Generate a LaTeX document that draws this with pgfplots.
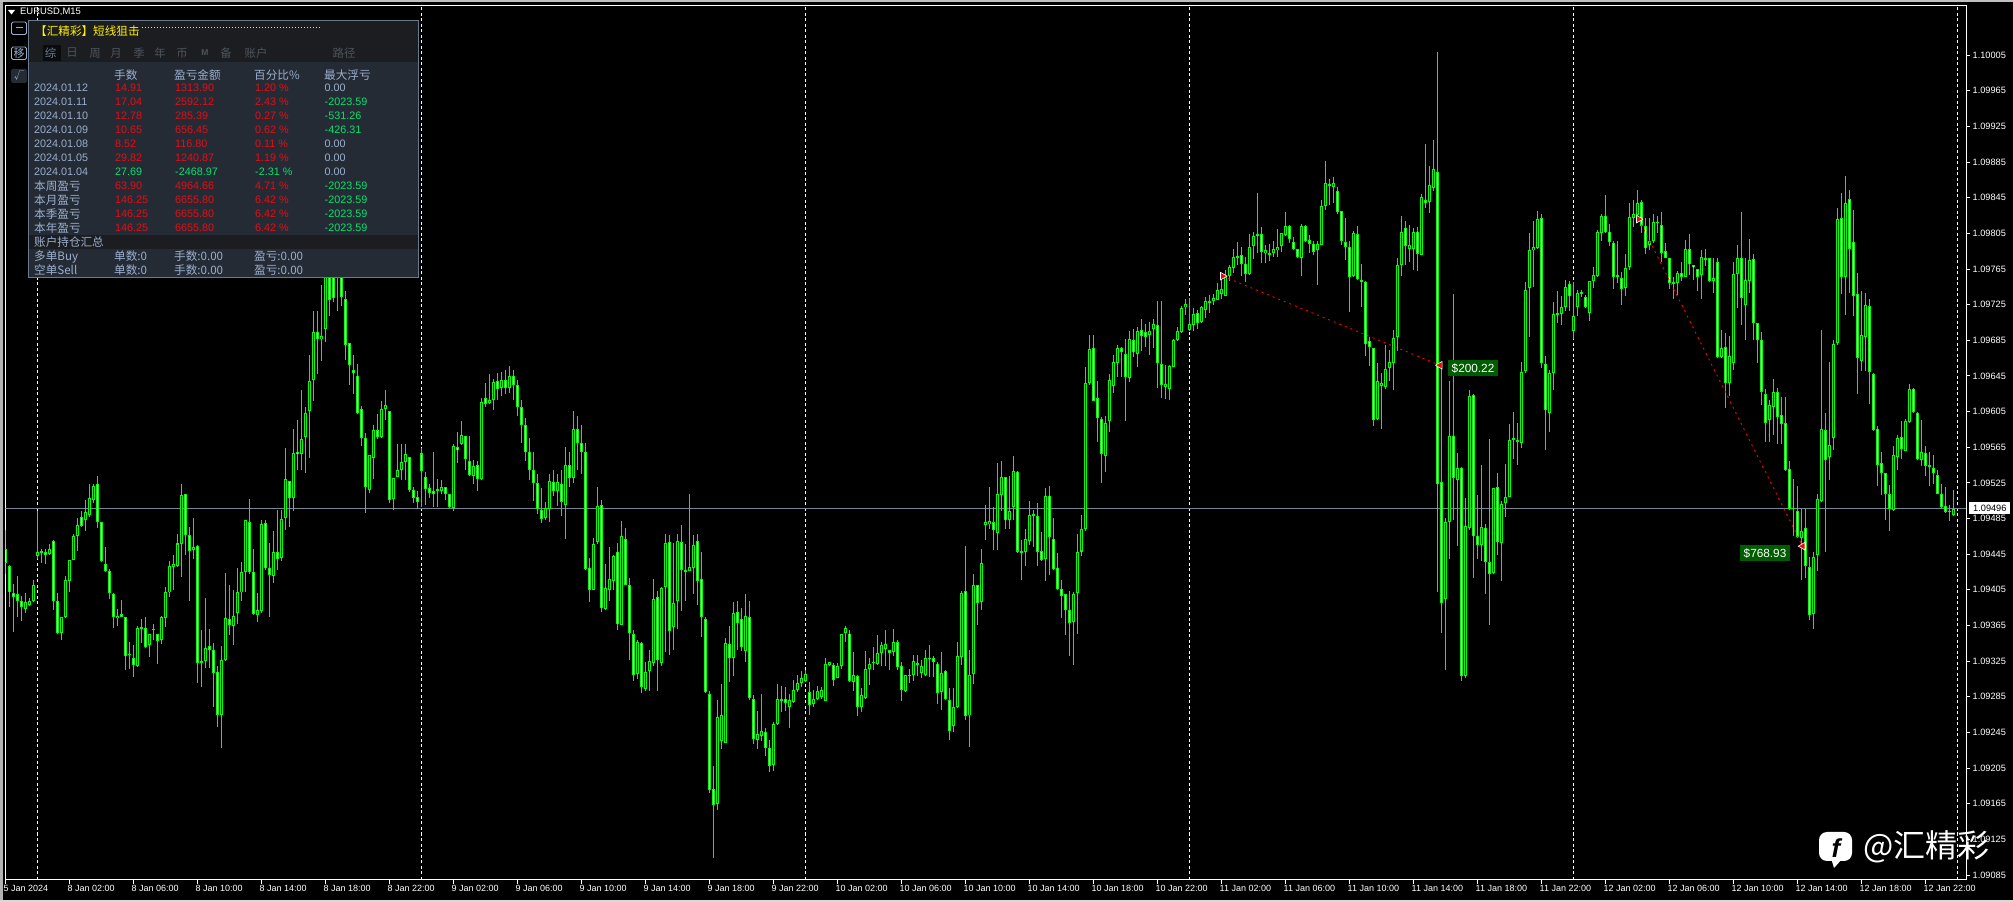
\documentclass[border=0pt]{standalone}
\usepackage{fontspec}
\usepackage{pgfplots}
\usepackage{pgfplotstable}
\pgfplotsset{compat=1.18}
\setmainfont{Liberation Sans}
\newfontfamily\cjk{Noto Sans CJK SC}
\definecolor{cdl}{RGB}{0,255,0}
\definecolor{panelbg}{RGB}{36,43,53}
\definecolor{panelhd}{RGB}{27,29,33}
\definecolor{panelbd}{RGB}{104,122,140}
\definecolor{rowtx}{RGB}{155,175,205}
\definecolor{redtx}{RGB}{228,14,22}
\definecolor{grntx}{RGB}{10,225,105}
\definecolor{tabtx}{RGB}{78,84,92}
\definecolor{lblbg}{RGB}{0,92,0}
\definecolor{pline}{RGB}{119,136,153}
% i, open, high, low, close : price in points above 1.09000
\pgfplotstableread{
i o h l c
0 451 472 423 435
1 432 433 386 403
2 402 412 358 397
3 400 420 375 393
4 392 398 370 386
5 384 401 379 391
6 388 396 387 392
7 392 416 391 410
8 443 493 440 447
9 449 451 435 447
10 448 451 434 444
11 445 457 444 451
12 460 461 382 393
13 392 401 355 356
14 357 374 349 374
15 374 421 373 416
16 415 439 402 439
17 439 468 438 465
18 465 486 449 478
19 487 493 476 477
20 483 506 471 492
21 489 524 487 508
22 506 524 502 521
23 524 533 474 481
24 481 481 436 437
25 434 453 425 426
26 426 428 395 401
27 400 401 362 374
28 373 383 364 376
29 378 394 374 375
30 374 374 315 331
31 332 346 316 333
32 329 343 307 321
33 319 364 318 362
34 361 372 345 363
35 362 374 340 341
36 343 356 330 356
37 360 367 349 361
38 356 356 322 348
39 349 376 344 374
40 373 408 363 403
41 402 437 397 432
42 431 444 405 434
43 432 468 431 457
44 456 524 419 511
45 512 513 444 466
46 467 475 393 449
47 450 486 440 453
48 454 455 301 323
49 325 360 296 324
50 325 396 317 340
51 342 361 317 337
52 338 345 273 312
53 313 320 251 265
54 264 342 227 326
55 326 424 325 373
56 372 410 354 365
57 364 405 343 376
58 379 429 367 403
59 402 436 392 425
60 425 483 402 483
61 481 507 423 425
62 425 451 377 378
63 377 401 369 382
64 381 483 379 479
65 480 483 427 430
66 429 458 374 422
67 420 471 413 447
68 447 495 427 440
69 441 495 437 485
70 486 564 472 529
71 527 527 476 508
72 508 586 494 559
73 560 596 539 557
74 557 629 539 574
75 577 610 536 603
76 606 668 553 639
77 641 718 617 694
78 694 718 647 686
79 686 747 662 690
80 698 775 683 758
81 775 785 712 730
82 760 770 728 732
83 760 778 718 775
84 770 775 723 734
85 731 740 663 680
86 682 682 635 657
87 652 668 625 648
88 645 658 602 603
89 608 611 566 575
90 575 581 491 520
91 517 556 514 556
92 553 590 529 584
93 584 602 574 576
94 576 617 575 608
95 608 629 596 612
96 606 606 502 506
97 507 531 495 531
98 532 569 532 540
99 539 569 528 549
100 548 569 528 557
101 554 554 515 517
102 517 520 502 508
103 509 516 496 503
104 558 564 498 538
105 532 537 500 518
106 519 524 508 514
107 516 560 498 513
108 516 529 498 518
109 516 528 513 520
110 520 520 506 512
111 513 513 497 498
112 497 569 494 566
113 565 582 547 562
114 569 594 568 579
115 578 578 539 552
116 550 578 533 534
117 533 551 524 544
118 545 550 516 529
119 529 620 528 616
120 620 637 610 614
121 615 647 614 618
122 618 642 607 638
123 639 648 618 630
124 632 650 622 640
125 640 652 625 632
126 632 656 626 645
127 645 652 618 635
128 635 640 600 610
129 610 618 570 590
130 590 598 550 560
131 560 575 528 540
132 540 560 505 525
133 525 535 490 496
134 495 519 480 485
135 486 503 483 497
136 496 535 481 527
137 526 540 510 516
138 516 535 499 526
139 524 540 488 503
140 500 565 462 545
141 545 560 520 530
142 530 606 525 585
143 585 600 540 570
144 570 590 535 560
145 560 570 427 428
146 429 441 391 405
147 405 463 405 456
148 459 520 456 499
149 500 506 380 385
150 383 434 382 407
151 405 453 392 417
152 415 444 405 443
153 447 458 360 367
154 366 482 366 465
155 462 474 410 410
156 410 418 326 356
157 355 360 303 309
158 311 349 305 346
159 345 346 289 296
160 294 324 291 313
161 314 337 291 325
162 323 417 320 395
163 397 404 291 326
164 323 408 320 407
165 408 468 335 458
166 459 466 332 359
167 363 458 337 390
168 392 468 361 460
169 459 478 381 427
170 427 456 392 426
171 426 513 428 431
172 429 466 400 455
173 460 468 388 415
174 417 448 352 374
175 372 374 289 290
176 288 291 177 180
177 181 207 104 164
178 165 281 158 262
179 235 299 226 265
180 233 351 233 345
181 344 364 302 328
182 328 391 308 379
183 380 392 337 368
184 372 385 336 341
185 336 400 324 376
186 374 392 281 284
187 282 287 232 238
188 237 269 226 243
189 241 288 235 247
190 246 250 218 228
191 227 236 201 207
192 208 257 202 254
193 255 299 253 282
194 281 297 268 282
195 283 296 269 278
196 274 288 250 281
197 279 304 278 293
198 293 309 290 300
199 300 314 296 306
200 303 315 302 311
201 290 302 264 276
202 277 293 274 282
203 282 297 281 291
204 285 296 283 293
205 280 329 280 322
206 321 324 319 324
207 321 323 297 304
208 306 323 306 319
209 319 355 316 355
210 356 364 346 362
211 356 360 302 303
212 302 335 292 309
213 308 309 263 273
214 274 295 268 287
215 284 336 283 316
216 316 329 298 322
217 323 341 315 324
218 322 354 321 334
219 334 346 319 343
220 339 360 319 344
221 338 338 315 334
222 335 361 331 346
223 347 349 315 318
224 320 324 280 293
225 291 309 290 309
226 309 316 300 309
227 309 332 303 325
228 323 332 308 321
229 312 326 306 320
230 309 337 308 328
231 329 343 307 327
232 328 331 307 324
233 322 324 277 289
234 290 335 270 312
235 314 315 281 282
236 281 295 236 247
237 252 295 246 273
238 273 346 272 331
239 330 404 321 401
240 404 454 259 263
241 264 338 229 309
242 310 423 299 410
243 410 410 365 390
244 391 451 382 435
245 478 500 461 481
246 479 520 473 482
247 481 498 450 472
248 469 547 450 513
249 511 549 494 532
250 532 532 473 483
251 483 533 473 493
252 498 555 483 538
253 537 538 446 448
254 449 461 416 447
255 447 473 432 462
256 460 505 455 489
257 490 495 453 488
258 488 502 432 447
259 449 470 437 439
260 440 519 415 510
261 510 521 422 464
262 462 486 427 428
263 429 446 405 406
264 406 416 373 398
265 400 400 354 382
266 382 404 331 368
267 369 402 321 400
268 401 468 356 447
269 448 489 443 473
270 473 655 471 637
271 637 691 635 675
272 676 691 617 617
273 620 639 571 598
274 597 599 525 557
275 555 600 537 592
276 595 647 582 640
277 634 668 626 661
278 660 680 644 676
279 676 678 644 672
280 670 687 595 644
281 643 696 638 686
282 685 698 666 672
283 670 700 655 695
284 697 709 673 690
285 694 703 678 689
286 691 705 669 696
287 698 709 676 703
288 702 729 632 660
289 658 729 620 635
290 633 657 619 636
291 630 657 618 656
292 655 686 655 685
293 685 700 684 696
294 694 723 693 721
295 722 731 713 726
296 696 732 695 703
297 702 721 695 715
298 716 719 698 704
299 705 723 704 722
300 719 734 710 729
301 728 736 716 729
302 729 737 725 733
303 730 749 730 741
304 737 756 731 743
305 735 764 735 756
306 757 769 751 767
307 766 788 760 779
308 778 795 769 780
309 781 790 757 771
310 771 779 750 759
311 759 804 758 790
312 791 806 776 802
313 803 850 783 804
314 804 812 772 784
315 783 792 772 786
316 781 793 774 783
317 783 797 779 787
318 786 810 779 790
319 791 805 784 805
320 803 829 802 813
321 813 814 794 799
322 795 801 786 788
323 787 787 777 778
324 777 815 757 813
325 813 814 795 796
326 798 803 783 793
327 793 797 781 784
328 786 797 747 793
329 792 843 792 836
330 836 886 831 861
331 858 866 837 860
332 857 868 839 861
333 852 857 827 829
334 830 830 792 796
335 795 822 775 790
336 790 796 717 756
337 757 808 756 805
338 804 813 753 754
339 753 771 722 751
340 750 752 667 681
341 684 689 656 677
342 676 676 589 596
343 597 659 596 639
344 634 648 586 637
345 633 680 630 653
346 654 674 639 661
347 660 697 629 688
348 689 777 673 770
349 769 825 757 807
350 811 819 769 791
351 787 814 773 792
352 787 811 764 806
353 807 812 763 782
354 781 849 781 846
355 843 905 834 839
356 840 881 828 859
357 856 910 853 877
358 874 1008 402 524
359 526 660 356 390
360 395 486 315 481
361 481 639 440 578
362 578 737 483 530
363 528 559 454 542
364 542 543 303 308
365 308 508 306 477
366 474 629 472 622
367 624 625 418 465
368 465 511 440 455
369 455 545 437 475
370 474 479 400 436
371 436 574 366 423
372 424 519 423 519
373 520 536 444 459
374 458 505 415 501
375 502 546 487 509
376 509 591 509 573
377 573 605 552 575
378 571 592 545 573
379 570 661 564 649
380 651 750 648 742
381 744 805 689 786
382 786 819 745 790
383 789 830 787 821
384 822 827 654 659
385 658 667 562 607
386 603 652 582 648
387 648 728 629 715
388 714 740 704 715
389 715 735 702 722
390 722 753 718 745
391 748 751 718 735
392 695 750 687 712
393 722 741 712 738
394 737 741 734 739
395 734 736 721 722
396 716 752 707 752
397 752 767 744 758
398 757 809 756 807
399 805 827 796 824
400 825 848 805 806
401 807 815 791 795
402 794 796 743 756
403 756 796 749 758
404 755 762 725 743
405 744 782 735 766
406 767 839 764 823
407 822 842 812 827
408 826 854 824 839
409 840 842 805 813
410 813 822 782 789
411 792 822 786 796
412 796 827 794 818
413 817 824 805 818
414 814 829 773 783
415 785 794 777 777
416 777 777 743 749
417 750 756 731 748
418 749 763 736 760
419 760 773 751 756
420 756 798 756 787
421 788 804 758 771
422 770 770 753 767
423 765 765 740 756
424 758 786 731 778
425 776 787 768 777
426 777 777 750 751
427 752 777 738 755
428 773 777 665 666
429 666 697 665 676
430 678 693 609 637
431 637 690 622 667
432 660 773 652 759
433 759 792 721 777
434 777 829 702 732
435 725 777 685 753
436 751 799 738 775
437 776 782 685 704
438 705 705 659 685
439 685 694 612 627
440 625 630 571 592
441 596 618 571 612
442 610 642 579 627
443 627 632 569 599
444 601 621 569 591
445 592 621 538 539
446 541 550 495 496
447 497 529 465 496
448 493 521 463 464
449 463 496 416 471
450 474 496 418 432
451 431 442 371 377
452 378 448 361 442
453 444 512 426 507
454 505 697 504 586
455 584 603 447 551
456 554 661 528 568
457 575 685 562 681
458 682 833 680 821
459 822 850 737 756
460 756 869 713 839
461 844 854 738 787
462 795 831 712 735
463 737 760 625 665
464 662 740 651 691
465 689 738 651 725
466 724 731 613 649
467 647 648 583 584
468 585 589 521 545
469 547 560 511 536
470 536 536 483 512
471 513 523 471 496
472 495 566 493 556
473 554 579 539 575
474 576 595 552 563
475 561 597 561 594
476 593 636 592 630
477 630 631 603 604
478 603 605 551 552
479 551 596 544 560
480 559 566 533 544
481 545 560 521 543
482 542 556 524 536
483 534 539 512 513
484 513 524 496 498
485 499 520 491 492
486 494 500 482 492
487 489 517 488 496
}\candles
\pgfplotstableread{
i p
304.3 757
358.6 657
}\tradeA
\pgfplotstableread{
i p
408.3 821
449.3 454
}\tradeB
\newcommand{\Tx}[4]{\node[anchor=west,inner sep=0pt,text=#1] at (#2,#3) {#4};}
\begin{document}
\begin{tikzpicture}[x=1pt,y=1pt]
\useasboundingbox (0,0) rectangle (2013,902);
\fill[black] (0,0) rectangle (2013,902);
\fill[black!30] (0,0) rectangle (3,902);
\fill[black!25] (0,899.5) rectangle (2013,902);
\fill[black!15] (0,0) rectangle (2013,2);
\begin{axis}[
  at={(5.5pt,22.5pt)},anchor=south west,scale only axis,
  width=1961pt,height=874pt,
  xmin=0,xmax=490.25,ymin=1.0907995,ymax=1.100607,
  axis line style={white,line width=1pt},
  xtick pos=bottom,ytick pos=right,tick align=outside,
  major tick length=4pt,
  tick style={white,line width=1pt},
  scaled y ticks=false,
  xtick={0,16,...,480},
  xticklabels={5 Jan 2024,8 Jan 02:00,8 Jan 06:00,8 Jan 10:00,8 Jan 14:00,8 Jan 18:00,8 Jan 22:00,9 Jan 02:00,9 Jan 06:00,9 Jan 10:00,9 Jan 14:00,9 Jan 18:00,9 Jan 22:00,10 Jan 02:00,10 Jan 06:00,10 Jan 10:00,10 Jan 14:00,10 Jan 18:00,10 Jan 22:00,11 Jan 02:00,11 Jan 06:00,11 Jan 10:00,11 Jan 14:00,11 Jan 18:00,11 Jan 22:00,12 Jan 02:00,12 Jan 06:00,12 Jan 10:00,12 Jan 14:00,12 Jan 18:00,12 Jan 22:00},
  ytick={1.09085,1.09125,1.09165,1.09205,1.09245,1.09285,1.09325,1.09365,1.09405,1.09445,1.09485,1.09525,1.09565,1.09605,1.09645,1.09685,1.09725,1.09765,1.09805,1.09845,1.09885,1.09925,1.09965,1.10005},
  yticklabels={1.09085,1.09125,1.09165,1.09205,1.09245,1.09285,1.09325,1.09365,1.09405,1.09445,1.09485,1.09525,1.09565,1.09605,1.09645,1.09685,1.09725,1.09765,1.09805,1.09845,1.09885,1.09925,1.09965,1.10005},
  xticklabel style={font=\fontsize{9}{10}\selectfont,text=white,anchor=north west,xshift=-2pt,yshift=0pt,inner xsep=0pt,inner ysep=2pt},
  yticklabel style={font=\fontsize{9.2}{10}\selectfont,text=white,anchor=west,xshift=0pt,inner xsep=2pt},
]
% dashed day separators and current price line
\pgfplotsinvokeforeach{8,104,200,296,392,488}{
  \draw[white,line width=1pt,dash pattern=on 3pt off 2.5pt] (axis cs:#1,1.0907995) -- (axis cs:#1,1.100607);
}
\draw[pline,line width=1pt] (axis cs:0,1.09496) -- (axis cs:490.25,1.09496);
% wicks
\addplot[draw=none,forget plot,mark=none,error bars/.cd,y dir=both,y explicit,error mark=none,
  error bar style={cdl,line width=1pt}]
  table[x=i,y expr={1.09+(\thisrow{h}+\thisrow{l})/200000},y error expr={(\thisrow{h}-\thisrow{l})/200000}] {\candles};
% bodies
\addplot[draw=none,forget plot,mark=none,error bars/.cd,y dir=both,y explicit,error mark=none,
  error bar style={cdl,line width=3pt}]
  table[x=i,y expr={1.09+(\thisrow{o}+\thisrow{c})/200000},y error expr={max(abs(\thisrow{o}-\thisrow{c})/200000,0.000007)}] {\candles};
% interiors: bearish white, bullish black
\addplot[draw=none,forget plot,mark=none,error bars/.cd,y dir=both,y explicit,error mark=none,
  error bar style={white,line width=1pt}]
  table[x=i,y expr={(\thisrow{o}-\thisrow{c})>2.6 ? 1.09+(\thisrow{o}+\thisrow{c})/200000 : nan},y error expr={(abs(\thisrow{o}-\thisrow{c})/2-1.12)/100000}] {\candles};
\addplot[draw=none,forget plot,mark=none,error bars/.cd,y dir=both,y explicit,error mark=none,
  error bar style={black,line width=1pt}]
  table[x=i,y expr={(\thisrow{c}-\thisrow{o})>2.6 ? 1.09+(\thisrow{o}+\thisrow{c})/200000 : nan},y error expr={(abs(\thisrow{o}-\thisrow{c})/2-1.12)/100000}] {\candles};
% trades
\addplot[red,line width=0.9pt,dash pattern=on 2pt off 4pt,forget plot] table[x=i,y expr={1.09+\thisrow{p}/100000}] {\tradeA};
\addplot[red,line width=0.9pt,dash pattern=on 2pt off 4pt,forget plot] table[x=i,y expr={1.09+\thisrow{p}/100000}] {\tradeB};
\addplot[only marks,forget plot,mark=triangle*,mark size=4.4pt,mark options={rotate=-90,fill=red,draw=white,line width=0.6pt}] table[x=i,y expr={1.09+\thisrow{p}/100000}] {
i p
304.3 757
408.3 821
};
\addplot[only marks,forget plot,mark=triangle*,mark size=4.4pt,mark options={rotate=90,fill=red,draw=white,line width=0.6pt}] table[x=i,y expr={1.09+\thisrow{p}/100000}] {
i p
358.6 657
449.3 454
};
\end{axis}
\begin{scope}[x=1pt,y=-1pt,shift={(0pt,902pt)}]
% current price box
\fill[white] (1969,502) rectangle (2010,514);
\node[anchor=west,inner sep=0pt,text=black,font=\fontsize{9.2}{10}\selectfont] at (1973,508.3) {1.09496};
% trade labels
\fill[lblbg] (1448,360) rectangle (1498,376);
\node[text=white,inner sep=0pt,font=\fontsize{11.8}{12}\selectfont] at (1473,368.3) {\$200.22};
\fill[lblbg] (1740,545) rectangle (1790,561);
\node[text=white,inner sep=0pt,font=\fontsize{11.8}{12}\selectfont] at (1765,553.3) {\$768.93};
% symbol title
\fill[white] (8,10) -- (15,10) -- (11.5,14.5) -- cycle;
\node[anchor=west,inner sep=0pt,text=white,font=\fontsize{9.4}{10}\selectfont] at (20,12.3) {EURUSD,M15};
% left buttons
\draw[rowtx,rounded corners=1.5pt,line width=0.8pt] (11.5,22) rectangle (26.5,34.5);
\draw[rowtx,line width=1pt] (15.5,28) -- (22.5,28);
\draw[rowtx,rounded corners=1.5pt,line width=0.8pt] (11.5,47) rectangle (26.5,59.5);
\node[text=rowtx,inner sep=0pt,font=\cjk\fontsize{11}{12}\selectfont] at (19,53) {移};
\fill[panelbg,rounded corners=1.5pt] (11,69) rectangle (27,83);
\node[text=rowtx,inner sep=0pt,font=\cjk\fontsize{10}{12}\selectfont] at (19,76) {√};
% panel
\fill[panelbg] (28.5,20.5) rectangle (418.5,277.5);
\fill[panelhd] (28.5,20.5) rectangle (418.5,62);
\fill[panelhd] (28.5,235) rectangle (418.5,249);
\draw[panelbd,line width=1pt] (28.5,20.5) rectangle (418.5,277.5);
\node[anchor=west,inner sep=0pt,text=yellow,font=\cjk\fontsize{11.6}{12}\selectfont] at (35,31) {【汇精彩】短线狙击};
\draw[yellow,line width=0.8pt,dash pattern=on 1pt off 2pt] (142,27.5) -- (320,27.5);
\fill[black!75!panelbg] (43,45) rectangle (61,61);
\begin{scope}[font=\cjk\fontsize{11.4}{12}\selectfont]
\node[text=rowtx!70!black,inner sep=0pt] at (50.5,53) {综};
\foreach \xx/\tt in {72/日,95/周,116/月,139/季,160/年,182/币,226/备,256/账户,344/路径}{
  \node[text=tabtx,inner sep=0pt] at (\xx,53) {\tt};
}
\end{scope}
\node[text=tabtx,inner sep=0pt,font=\bfseries\fontsize{8.5}{10}\selectfont] at (205,53) {M};
\begin{scope}[font=\cjk\fontsize{11.6}{12}\selectfont]
\Tx{rowtx}{114}{75}{手数}
\Tx{rowtx}{174}{75}{盈亏金额}
\Tx{rowtx}{254}{75}{百分比\%}
\Tx{rowtx}{324}{75}{最大浮亏}
\Tx{rowtx}{34}{186}{本周盈亏}
\Tx{rowtx}{34}{200}{本月盈亏}
\Tx{rowtx}{34}{214}{本季盈亏}
\Tx{rowtx}{34}{228}{本年盈亏}
\Tx{rowtx}{34}{242.5}{账户持仓汇总}
\Tx{rowtx}{34}{256.5}{多单Buy}
\Tx{rowtx}{114}{256.5}{单数:0}
\Tx{rowtx}{174}{256.5}{手数:0.00}
\Tx{rowtx}{254}{256.5}{盈亏:0.00}
\Tx{rowtx}{34}{270.5}{空单Sell}
\Tx{rowtx}{114}{270.5}{单数:0}
\Tx{rowtx}{174}{270.5}{手数:0.00}
\Tx{rowtx}{254}{270.5}{盈亏:0.00}
\end{scope}
\begin{scope}[font=\fontsize{10.8}{12}\selectfont]
\Tx{rowtx}{34}{88}{2024.01.12}\Tx{redtx}{115}{88}{14.91}\Tx{redtx}{175}{88}{1313.90}\Tx{redtx}{255}{88}{1.20 \%}\Tx{rowtx}{324.5}{88}{0.00}
\Tx{rowtx}{34}{102}{2024.01.11}\Tx{redtx}{115}{102}{17.04}\Tx{redtx}{175}{102}{2592.12}\Tx{redtx}{255}{102}{2.43 \%}\Tx{grntx}{324.5}{102}{-2023.59}
\Tx{rowtx}{34}{116}{2024.01.10}\Tx{redtx}{115}{116}{12.78}\Tx{redtx}{175}{116}{285.39}\Tx{redtx}{255}{116}{0.27 \%}\Tx{grntx}{324.5}{116}{-531.26}
\Tx{rowtx}{34}{130}{2024.01.09}\Tx{redtx}{115}{130}{10.65}\Tx{redtx}{175}{130}{656.45}\Tx{redtx}{255}{130}{0.62 \%}\Tx{grntx}{324.5}{130}{-426.31}
\Tx{rowtx}{34}{144}{2024.01.08}\Tx{redtx}{115}{144}{8.52}\Tx{redtx}{175}{144}{116.80}\Tx{redtx}{255}{144}{0.11 \%}\Tx{rowtx}{324.5}{144}{0.00}
\Tx{rowtx}{34}{158}{2024.01.05}\Tx{redtx}{115}{158}{29.82}\Tx{redtx}{175}{158}{1240.87}\Tx{redtx}{255}{158}{1.19 \%}\Tx{rowtx}{324.5}{158}{0.00}
\Tx{rowtx}{34}{172}{2024.01.04}\Tx{grntx}{115}{172}{27.69}\Tx{grntx}{175}{172}{-2468.97}\Tx{grntx}{255}{172}{-2.31 \%}\Tx{rowtx}{324.5}{172}{0.00}
\Tx{redtx}{115}{186}{63.90}\Tx{redtx}{175}{186}{4964.66}\Tx{redtx}{255}{186}{4.71 \%}\Tx{grntx}{324.5}{186}{-2023.59}
\Tx{redtx}{115}{200}{146.25}\Tx{redtx}{175}{200}{6655.80}\Tx{redtx}{255}{200}{6.42 \%}\Tx{grntx}{324.5}{200}{-2023.59}
\Tx{redtx}{115}{214}{146.25}\Tx{redtx}{175}{214}{6655.80}\Tx{redtx}{255}{214}{6.42 \%}\Tx{grntx}{324.5}{214}{-2023.59}
\Tx{redtx}{115}{228}{146.25}\Tx{redtx}{175}{228}{6655.80}\Tx{redtx}{255}{228}{6.42 \%}\Tx{grntx}{324.5}{228}{-2023.59}
\end{scope}
% watermark
\fill[white,rounded corners=8pt] (1819,832) rectangle (1852,861);
\fill[white] (1831,858) -- (1843,858) -- (1834,868) -- cycle;
\node[text=black,inner sep=0pt,font=\bfseries\itshape\fontsize{26}{26}\selectfont] at (1836,848) {f};
\node[anchor=west,inner sep=0pt,text=white,font=\cjk\fontsize{32}{33}\selectfont] at (1863,847) {@汇精彩};
\end{scope}
\end{tikzpicture}
\end{document}
